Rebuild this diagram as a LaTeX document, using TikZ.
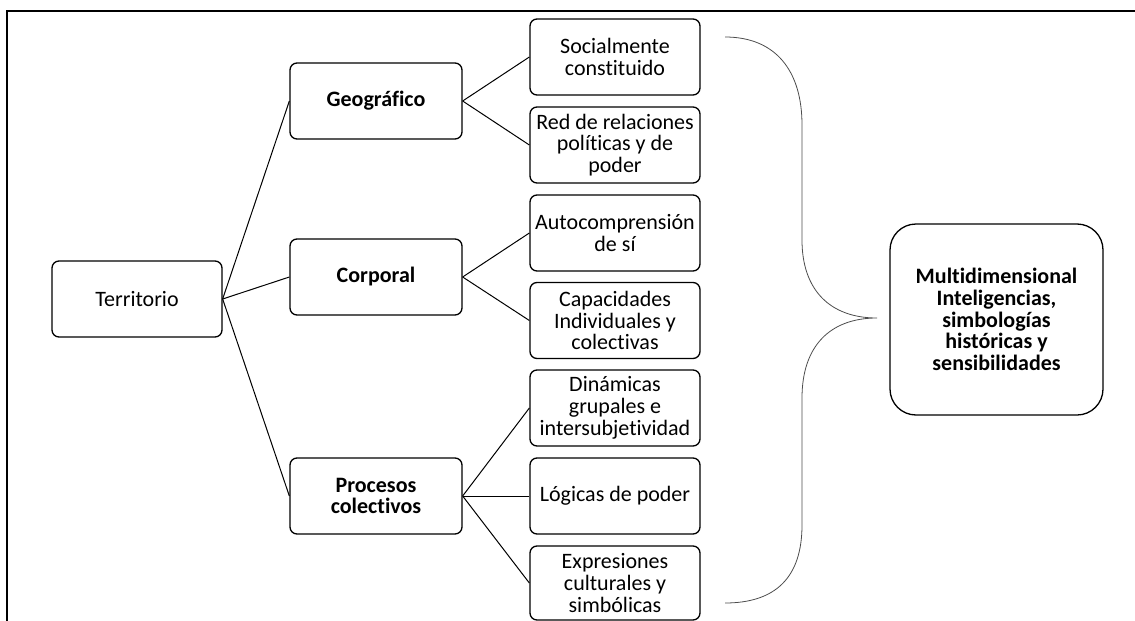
\documentclass[tikz,border=0pt]{standalone}
\usepackage{fontspec}
\setmainfont{Carlito}[Ligatures={NoCommon}]
\begin{document}
\begin{tikzpicture}[x=1pt,y=-1pt,
  txt/.style={font=\fontsize{22}{21.7}\selectfont},
  btxt/.style={font=\bfseries\fontsize{22}{21.7}\selectfont},
  box/.style={draw,line width=1.3pt,rounded corners=7pt,minimum width=172pt,minimum height=76pt,align=center,inner sep=1pt,txt},
  kid/.style={box,minimum width=170pt},
  bigbox/.style={draw,line width=1.3pt,rounded corners=26pt,minimum width=213pt,minimum height=191pt,align=center,btxt},
  link/.style={line width=1pt},
  brace/.style={draw=black!70,line width=0.8pt}]
\useasboundingbox (0,0) rectangle (1135,621);
\draw[line width=1.8pt] (7,621) -- (7,11) -- (1135,11);
\node[box,minimum width=170pt] (ter) at (137,299) {Territorio};
\node[box,btxt] (geo) at (376,101) {Geográfico};
\node[box,btxt] (cor) at (376,277) {Corporal};
\node[box,btxt] (pro) at (376,496) {Procesos\\colectivos};
\node[kid] (soc) at (615,57) {Socialmente\\constituido};
\node[kid] (red) at (615,145) {Red de relaciones\\políticas y de\\poder};
\node[kid] (aut) at (615,233) {Autocomprensión\\de sí};
\node[kid] (cap) at (615,320.5) {Capacidades\\Individuales y\\colectivas};
\node[kid] (din) at (615,408) {Dinámicas\\grupales e\\intersubjetividad};
\node[kid] (log) at (615,496) {Lógicas de poder};
\node[kid,minimum height=74pt] (exp) at (615,583) {Expresiones\\culturales y\\simbólicas};
\node[bigbox] (mul) at (996.5,319.5) {Multidimensional\\Inteligencias,\\simbologías\\históricas y\\sensibilidades};
\draw[link] (ter.east) -- (geo.west);
\draw[link] (ter.east) -- (cor.west);
\draw[link] (ter.east) -- (pro.west);
\draw[link] (geo.east) -- (soc.west);
\draw[link] (geo.east) -- (red.west);
\draw[link] (cor.east) -- (aut.west);
\draw[link] (cor.east) -- (cap.west);
\draw[link] (pro.east) -- (din.west);
\draw[link] (pro.east) -- (log.west);
\draw[link] (pro.east) -- (exp.west);
\coordinate (bt) at (725,37);
\coordinate (bb) at (725,603);
\coordinate (tip) at (877,318);
\draw[brace] (bt) .. controls (775,37) and (802,70) .. (802,125) -- (802,240)
  .. controls (802,290) and (830,318) .. (tip)
  .. controls (830,318) and (802,346) .. (802,398) -- (802,525)
  .. controls (802,578) and (775,603) .. (bb);
\end{tikzpicture}
\end{document}
